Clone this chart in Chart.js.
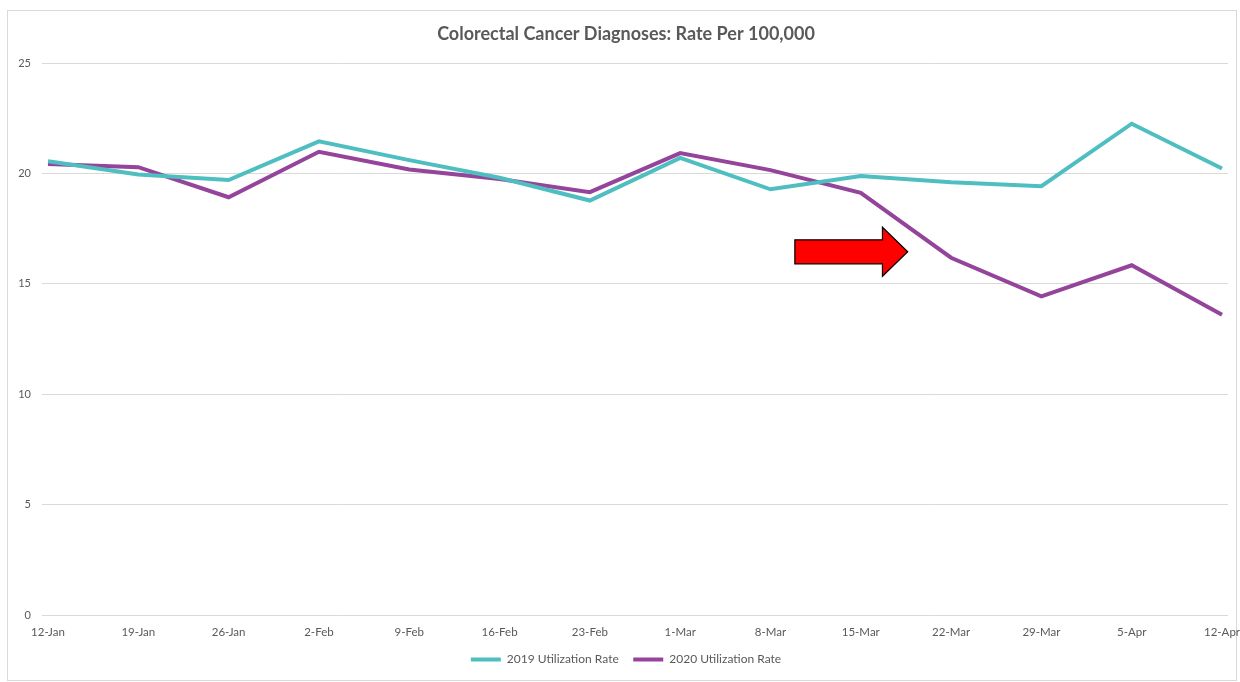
<!DOCTYPE html>
<html>
<head>
<meta charset="utf-8">
<script src="https://cdn.jsdelivr.net/npm/chart.js@4"></script>
<style>
  html, body { margin: 0; padding: 0; background: #ffffff; }
  #frame {
    position: absolute; left: 7px; top: 10px; width: 1230px; height: 671px;
    border: 1px solid #d9d9d9; box-sizing: border-box;
  }
  #wrap { position: absolute; left: 0; top: 0; width: 1240px; height: 682px; }
</style>
</head>
<body>
<div id="frame"></div>
<div id="wrap"><canvas id="chart" width="1240" height="682"></canvas></div>
<script>
// Weekly diagnosis rates per 100,000
const weeks = ['12-Jan', '19-Jan', '26-Jan', '2-Feb', '9-Feb', '16-Feb', '23-Feb',
               '1-Mar', '8-Mar', '15-Mar', '22-Mar', '29-Mar', '5-Apr', '12-Apr'];
const rate2019 = [20.55, 19.95, 19.7, 21.45, 20.6, 19.8, 18.77, 20.7, 19.28, 19.88, 19.6, 19.42, 22.25, 20.22];
const rate2020 = [20.43, 20.28, 18.92, 20.98, 20.18, 19.75, 19.15, 20.92, 20.15, 19.12, 16.18, 14.43, 15.84, 13.6];
const yTicks = [0, 5, 10, 15, 20, 25];

// Callout arrow, in axis units (week index / rate)
const arrowTail = 8.27, arrowHeadBase = 9.24, arrowTip = 9.52, arrowLevel = 16.45;

const textColor = '#595959';
const gridColor = '#d9d9d9';
const fontFamily = 'Lato, "Liberation Sans", sans-serif';

const toPoints = vals => vals.map((v, i) => ({ x: i, y: v }));

const arrowPlugin = {
  id: 'callout',
  afterDatasetsDraw(chart) {
    const { ctx, scales: { x, y } } = chart;
    const x0 = x.getPixelForValue(arrowTail);
    const x1 = x.getPixelForValue(arrowHeadBase);
    const x2 = x.getPixelForValue(arrowTip);
    const yc = y.getPixelForValue(arrowLevel);
    const body = 12, head = 24.5;
    ctx.save();
    ctx.beginPath();
    ctx.moveTo(x0, yc - body);
    ctx.lineTo(x1, yc - body);
    ctx.lineTo(x1, yc - head);
    ctx.lineTo(x2, yc);
    ctx.lineTo(x1, yc + head);
    ctx.lineTo(x1, yc + body);
    ctx.lineTo(x0, yc + body);
    ctx.closePath();
    ctx.fillStyle = '#ff0000';
    ctx.fill();
    ctx.lineWidth = 1.2;
    ctx.strokeStyle = '#000000';
    ctx.stroke();
    ctx.restore();
  }
};

new Chart(document.getElementById('chart'), {
  type: 'line',
  data: {
    datasets: [
      {
        label: '2019 Utilization Rate',
        data: toPoints(rate2019),
        borderColor: '#4fbec1',
        backgroundColor: '#4fbec1',
        borderWidth: 4,
        pointRadius: 0,
        tension: 0
      },
      {
        label: '2020 Utilization Rate',
        data: toPoints(rate2020),
        borderColor: '#94449a',
        backgroundColor: '#94449a',
        borderWidth: 4,
        pointRadius: 0,
        tension: 0
      }
    ]
  },
  options: {
    responsive: false,
    animation: false,
    layout: { padding: { top: 10, left: 12, right: 0, bottom: 6.5 } },
    plugins: {
      title: {
        display: true,
        text: 'Colorectal Cancer Diagnoses: Rate Per 100,000',
        color: textColor,
        font: { family: fontFamily, size: 18, weight: 'bold' },
        padding: { top: 13.2, bottom: 18.2 }
      },
      legend: {
        position: 'bottom',
        labels: {
          color: textColor,
          font: { family: fontFamily, size: 12 },
          usePointStyle: true,
          pointStyle: 'line',
          pointStyleWidth: 30,
          boxHeight: 4,
          padding: 14.5
        }
      },
      tooltip: { enabled: false }
    },
    scales: {
      x: {
        type: 'linear',
        min: -0.0664,
        max: 13.0664,
        grid: { display: false, drawTicks: false },
        border: { display: false },
        afterBuildTicks: s => { s.ticks = weeks.map((_, i) => ({ value: i })); },
        afterFit: s => { s.height = 24; s.paddingLeft = 0; s.paddingRight = 12; },
        ticks: {
          color: textColor,
          font: { family: fontFamily, size: 11.5 },
          padding: 10,
          maxRotation: 0,
          autoSkip: false,
          callback: v => weeks[v]
        }
      },
      y: {
        min: 0,
        max: 25,
        afterBuildTicks: s => { s.ticks = yTicks.map(v => ({ value: v })); },
        afterFit: s => { s.width = 30; },
        grid: { color: gridColor, lineWidth: 1, drawTicks: false },
        border: { display: false },
        ticks: {
          color: textColor,
          font: { family: fontFamily, size: 11 },
          padding: 11
        }
      }
    }
  },
  plugins: [arrowPlugin]
});
</script>
</body>
</html>
